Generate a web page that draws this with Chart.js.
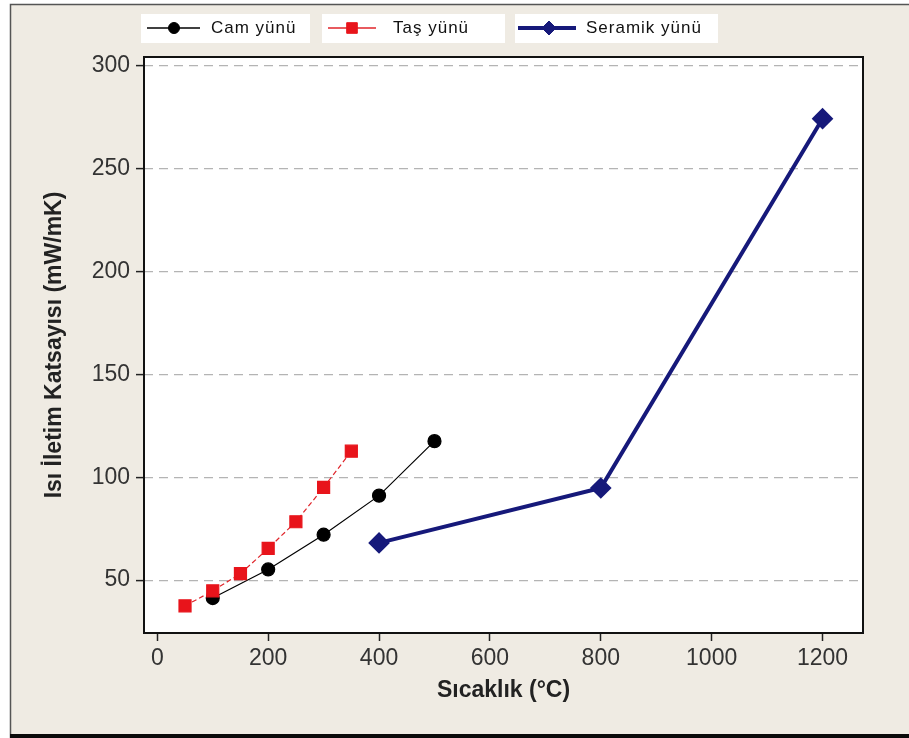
<!DOCTYPE html>
<html>
<head>
<meta charset="utf-8">
<script src="https://cdn.jsdelivr.net/npm/chart.js@4.4.1/dist/chart.umd.min.js"></script>
<style>
body{margin:0;background:#fff;}
#wrap{width:909px;height:738px;}
</style>
</head>
<body>
<div id="wrap"><canvas id="myChart" width="909" height="738"></canvas></div>
<script>
// veriler
var camX = [100, 200, 300, 400, 500];
var camY = [41.3, 55.2, 72.1, 91.1, 117.6];
var tasX = [50, 100, 150, 200, 250, 300, 350];
var tasY = [37.5, 44.8, 53.2, 65.4, 78.4, 95.1, 112.7];
var seramikX = [400, 800, 1200];
var seramikY = [68.1, 94.8, 274.4];
var xTicks = [0, 200, 400, 600, 800, 1000, 1200];
var yTicks = [50, 100, 150, 200, 250, 300];
var seriesNames = ["Cam yünü", "Taş yünü", "Seramik yünü"];

function puntos(xs, ys){
	var arr = new Array();
	for(var i = 0;i<xs.length;i++){
		arr.push({x: xs[i], y: ys[i]});
	}
	return arr;
}

var fondo = {
	id: 'fondo',
	beforeDraw: function(chart){
		var ctx = chart.ctx, a = chart.chartArea;
		ctx.save();
		ctx.fillStyle = '#ffffff';
		ctx.fillRect(0, 0, 909, 738);
		ctx.fillStyle = '#efebe3';
		ctx.fillRect(10, 4, 899, 730);
		ctx.strokeStyle = '#555';
		ctx.lineWidth = 1.5;
		ctx.beginPath();
		ctx.moveTo(10.5, 738);
		ctx.lineTo(10.5, 4.5);
		ctx.lineTo(909, 4.5);
		ctx.stroke();
		ctx.fillStyle = '#0a0a0a';
		ctx.fillRect(10, 734, 899, 4);
		ctx.fillStyle = '#ffffff';
		ctx.fillRect(a.left, a.top, a.right - a.left, a.bottom - a.top);
		ctx.restore();
	},
	beforeDatasetsDraw: function(chart){
		var ctx = chart.ctx, a = chart.chartArea;
		ctx.save();
		ctx.strokeStyle = '#111';
		ctx.lineWidth = 2;
		ctx.strokeRect(a.left, a.top, a.right - a.left, a.bottom - a.top);
		ctx.restore();
	}
};

// leyenda dibujada a mano con el estilo de cada serie
var leyenda = {
	id: 'leyenda',
	afterDraw: function(chart){
		var ctx = chart.ctx;
		var cajas = [[141, 310, 147, 200, 174, 211], [322, 505, 328, 376, 352, 393], [515, 718, 518, 576, 549, 586]];
		var radios = [5.5, 7.5, 7];
		var cy = 28;
		ctx.save();
		for(var i = 0;i<cajas.length;i++){
			var c = cajas[i];
			var ds = chart.data.datasets[i];
			ctx.fillStyle = '#ffffff';
			ctx.fillRect(c[0], 14, c[1] - c[0], 29);
			ctx.strokeStyle = ds.borderColor;
			ctx.lineWidth = Math.max(ds.borderWidth, 1.5);
			ctx.setLineDash([]);
			ctx.beginPath();
			ctx.moveTo(c[2], cy);
			ctx.lineTo(c[3], cy);
			ctx.stroke();
			ctx.fillStyle = ds.pointBackgroundColor;
			ctx.strokeStyle = ds.pointBorderColor;
			ctx.lineWidth = 1;
			Chart.helpers.drawPoint(ctx, {pointStyle: ds.pointStyle, radius: radios[i], borderWidth: 1, rotation: 0}, c[4], cy);
			ctx.fillStyle = '#111';
			ctx.font = '17px "Liberation Sans", Arial, sans-serif';
			ctx.letterSpacing = '1px';
			ctx.textBaseline = 'middle';
			ctx.textAlign = 'left';
			ctx.fillText(seriesNames[i], c[5], cy);
		}
		ctx.restore();
	}
};

new Chart(document.getElementById("myChart"), {
	type: 'line',
	data: {
		datasets: [
			{
				label: seriesNames[0],
				data: puntos(camX, camY),
				borderColor: '#000000',
				borderWidth: 1.2,
				pointStyle: 'circle',
				pointRadius: 6.5,
				pointBackgroundColor: '#000000',
				pointBorderColor: '#000000',
				order: 1
			},
			{
				label: seriesNames[1],
				data: puntos(tasX, tasY),
				borderColor: '#e0242a',
				borderWidth: 1.2,
				borderDash: [5, 3],
				pointStyle: 'rect',
				pointRadius: 8.5,
				pointBackgroundColor: '#e8141b',
				pointBorderColor: '#e8141b',
				order: 0
			},
			{
				label: seriesNames[2],
				data: puntos(seramikX, seramikY),
				borderColor: '#16197a',
				borderWidth: 4,
				pointStyle: 'rectRot',
				pointRadius: 8,
				pointBackgroundColor: '#16197a',
				pointBorderColor: '#16197a',
				order: 2
			}
		]
	},
	options: {
		responsive: false,
		animation: false,
		layout: { padding: { left: 0, top: 57, right: 46, bottom: 0 } },
		plugins: {
			legend: { display: false },
			tooltip: { enabled: false }
		},
		scales: {
			x: {
				type: 'linear',
				min: -24,
				max: 1273,
				afterBuildTicks: function(scale){ scale.ticks = xTicks.map(function(v){ return {value: v}; }); },
				afterFit: function(scale){ scale.height = 105; },
				grid: { drawOnChartArea: false, tickLength: 8, tickColor: '#222', tickWidth: 1.5 },
				border: { display: false },
				ticks: {
					color: '#333',
					padding: 4,
					maxRotation: 0,
					callback: function(v){ return String(v); },
					font: { family: '"Liberation Sans", Arial, sans-serif', size: 23 }
				},
				title: {
					display: true,
					text: 'Sıcaklık (°C)',
					color: '#222',
					padding: { top: 0, bottom: 34 },
					font: { family: '"Liberation Sans", Arial, sans-serif', size: 23, weight: 'bold' }
				}
			},
			y: {
				type: 'linear',
				min: 24.3,
				max: 304.4,
				afterBuildTicks: function(scale){ scale.ticks = yTicks.map(function(v){ return {value: v}; }); },
				afterFit: function(scale){ scale.width = 144; },
				grid: { color: '#b4b4b4', lineWidth: 1.2, tickLength: 8, tickColor: '#222', tickWidth: 1.5, tickBorderDash: [] },
				border: { display: false, dash: [9, 6] },
				ticks: {
					color: '#333',
					padding: 6,
					callback: function(v){ return String(v); },
					font: { family: '"Liberation Sans", Arial, sans-serif', size: 23 }
				},
				title: {
					display: true,
					text: 'Isı İletim Katsayısı (mW/mK)',
					color: '#222',
					padding: { top: 41, bottom: 0 },
					font: { family: '"Liberation Sans", Arial, sans-serif', size: 23, weight: 'bold' }
				}
			}
		}
	},
	plugins: [fondo, leyenda]
});
</script>
</body>
</html>
